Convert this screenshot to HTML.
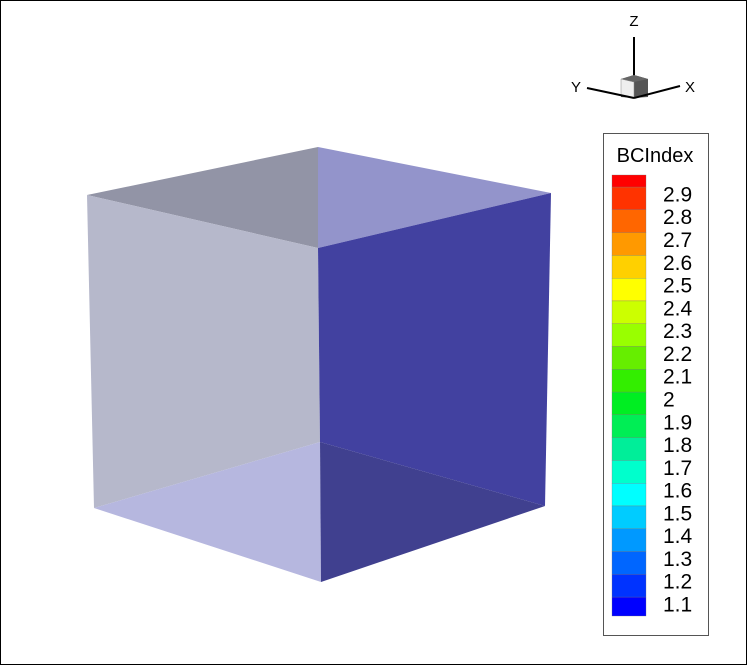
<!DOCTYPE html>
<html><head><meta charset="utf-8"><style>
html,body{margin:0;padding:0;background:#fff}
svg{display:block}
text{font-family:"Liberation Sans",sans-serif}
</style></head><body>
<svg width="747" height="665" viewBox="0 0 747 665">
<rect x="0.5" y="0.5" width="746" height="664" fill="#fff" stroke="#000" stroke-width="1"/>
<g>
<polygon points="87,195 318,147 318,248" fill="#9294a6"/>
<polygon points="318,147 551,193 318,248" fill="#9394cb"/>
<polygon points="87,195 318,248 320,442 94,508" fill="#b6b8cb"/>
<polygon points="94,508 320,442 321,582" fill="#b6b7df"/>
<polygon points="318,248 551,193 545,506 320,442" fill="#4241a0"/>
<polygon points="320,442 545,506 321,582" fill="#40408f"/>
</g>
<g>
<line x1="634" y1="37" x2="634" y2="98" stroke="#000" stroke-width="2"/>
<polygon points="621,79 634,75 648,79 648,97 634,98 621,97" fill="#555"/>
<polygon points="621,79 634,75 648,79 634,82" fill="#666"/>
<polygon points="621,79 634,82 634,98 621,95" fill="#eee" stroke="#888" stroke-width="0.5"/>
<line x1="587" y1="88" x2="634" y2="98" stroke="#000" stroke-width="2"/>
<line x1="634" y1="98" x2="680" y2="86" stroke="#000" stroke-width="2"/>
<text x="634" y="26" font-size="15" text-anchor="middle">Z</text>
<text x="576" y="92" font-size="15" text-anchor="middle">Y</text>
<text x="690" y="92" font-size="15" text-anchor="middle">X</text>
</g>
<g>
<rect x="603.5" y="133.5" width="105" height="502" fill="#fff" stroke="#555" stroke-width="1"/>
<text x="655" y="162" font-size="20" text-anchor="middle">BCIndex</text>
<g id="bar"></g>
</g>
</svg>
<script>
const bandColors=["#ff0000","#ff3300","#ff6600","#ff9900","#ffd000","#ffff00","#ccff00","#99ff00","#66ee00","#33ee00","#00ee22","#00ee55","#00ee99","#00ffcc","#00ffff","#00ccff","#0099ff","#0066ff","#0033ff","#0000ff"];
const tickLabels=["2.9","2.8","2.7","2.6","2.5","2.4","2.3","2.2","2.1","2","1.9","1.8","1.7","1.6","1.5","1.4","1.3","1.2","1.1"];
const tickValues=[2.9,2.8,2.7,2.6,2.5,2.4,2.3,2.2,2.1,2.0,1.9,1.8,1.7,1.6,1.5,1.4,1.3,1.2,1.1];
const rangeMax=3.003, rangeMin=1.067;
const NS="http://www.w3.org/2000/svg";
const barG=document.getElementById('bar');
const barTop=175, barBot=616;
function yOf(v){return barTop+(rangeMax-v)/(rangeMax-rangeMin)*(barBot-barTop);}
const levels=[rangeMax];
for(let i=0;i<tickValues.length;i++)levels.push(tickValues[i]+0.05);
levels.push(rangeMin);
for(let i=0;i<levels.length-1;i++){
 const y1=yOf(levels[i]),y2=yOf(levels[i+1]);
 if(y2-y1<=0)continue;
 const r=document.createElementNS(NS,'rect');
 r.setAttribute('x',612);r.setAttribute('y',y1);r.setAttribute('width',34);r.setAttribute('height',y2-y1);
 r.setAttribute('fill',bandColors[Math.min(i,bandColors.length-1)]);
 r.setAttribute('stroke','#777');r.setAttribute('stroke-width','0.3');
 
 
 barG.appendChild(r);
}
for(let i=0;i<tickValues.length;i++){
 const t=document.createElementNS(NS,'text');
 t.setAttribute('x',663);t.setAttribute('y',yOf(tickValues[i])+3);
 t.setAttribute('font-size','21');
 t.textContent=tickLabels[i];
 
 
 barG.appendChild(t);
}
</script>
</body></html>
